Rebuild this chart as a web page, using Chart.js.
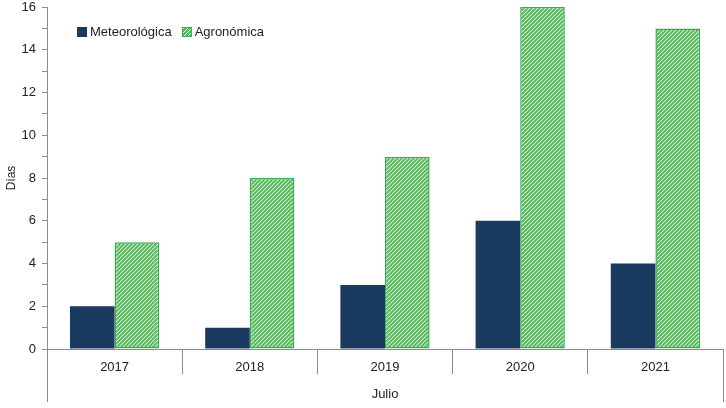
<!DOCTYPE html>
<html lang="es">
<head>
<meta charset="UTF-8">
<title>Días Julio</title>
<script src="https://cdn.jsdelivr.net/npm/chart.js"></script>
<style>
  body { margin: 0; background: #fff; }
  #wrap { position: relative; width: 726px; height: 408px; }
  #legend { position: absolute; left: 77px; top: 24px; font: 13px "Liberation Sans", sans-serif; color: #222; display: flex; align-items: center; }
  #legend span.box { display: inline-block; width: 10px; height: 10px; margin-right: 3px; box-sizing: border-box; }
  #legend span.txt { margin-right: 10px; }
</style>
</head>
<body>
<div id="wrap">
  <canvas id="chart" width="726" height="408"></canvas>
  <div id="legend"></div>
</div>
<script>
const years = ['2017', '2018', '2019', '2020', '2021'];
const meteorologica = [2, 1, 3, 6, 4];
const agronomica = [5, 8, 9, 16, 15];
const groupLabel = 'Julio';

const navy = '#1B3A5F';
const green = '#3DAA58';
const stripe = '#52B957';

// diagonal hatch like the Excel "wide upward diagonal"
function makeHatch() {
  const c = document.createElement('canvas');
  c.width = 4; c.height = 4;
  const g = c.getContext('2d');
  g.fillStyle = '#fff';
  g.fillRect(0, 0, 4, 4);
  g.strokeStyle = stripe;
  g.lineWidth = 2;
  g.beginPath();
  g.moveTo(-1, 5); g.lineTo(5, -1);
  g.moveTo(-1, 1); g.lineTo(1, -1);
  g.moveTo(3, 5); g.lineTo(5, 3);
  g.stroke();
  return g.createPattern(c, 'repeat');
}
const hatch = makeHatch();

// outer lines of the two-level category axis
const outerLines = {
  id: 'outerLines',
  afterDraw(chart) {
    const { ctx, chartArea } = chart;
    ctx.save();
    ctx.strokeStyle = '#8c8c8c';
    ctx.lineWidth = 1;
    [chartArea.left, chartArea.right].forEach(x => {
      ctx.beginPath();
      ctx.moveTo(Math.round(x) + 0.5, chartArea.bottom);
      ctx.lineTo(Math.round(x) + 0.5, 402);
      ctx.stroke();
    });
    ctx.restore();
  }
};

const chart = new Chart(document.getElementById('chart'), {
  type: 'bar',
  data: {
    labels: years,
    datasets: [
      { label: 'Meteorológica', data: meteorologica, backgroundColor: navy, borderWidth: 0 },
      { label: 'Agronómica', data: agronomica, backgroundColor: hatch, borderColor: green, borderWidth: 1.5, borderSkipped: false }
    ]
  },
  options: {
    responsive: false,
    animation: false,
    layout: { padding: { top: 7, right: 3, left: 0, bottom: 0 } },
    datasets: { bar: { categoryPercentage: 0.66, barPercentage: 1 } },
    plugins: { legend: { display: false }, tooltip: { enabled: false } },
    scales: {
      x: {
        grid: { drawOnChartArea: false, drawTicks: true, tickLength: 25, color: '#8c8c8c', offset: true },
        border: { color: '#8c8c8c' },
        ticks: { color: '#222', font: { family: 'Liberation Sans', size: 13 }, padding: -14 },
        title: { display: true, text: groupLabel, color: '#222', font: { family: 'Liberation Sans', size: 13 }, padding: { top: 0, bottom: 6 } },
        afterFit(s) { s.height = 59; }
      },
      y: {
        min: 0, max: 16,
        ticks: {
          stepSize: 1, color: '#222', font: { family: 'Liberation Sans', size: 13 }, padding: 6,
          callback: v => (v % 2 === 0 ? v : '')
        },
        grid: { drawOnChartArea: false, drawTicks: true, tickLength: 5, color: '#8c8c8c' },
        border: { color: '#8c8c8c' },
        title: { display: true, text: 'Días', color: '#222', font: { family: 'Liberation Sans', size: 12 } },
        afterFit(s) { s.width = 47; s.paddingTop = 0; s.paddingBottom = 0; }
      }
    }
  },
  plugins: [outerLines]
});

// legend as html
const legend = document.getElementById('legend');
chart.data.datasets.forEach((ds, i) => {
  const box = document.createElement('span');
  box.className = 'box';
  if (i === 0) box.style.background = navy;
  else {
    box.style.border = '1px solid ' + green;
    box.style.background = 'repeating-linear-gradient(-45deg, ' + stripe + ' 0 1.6px, #fff 1.6px 2.8px)';
  }
  const txt = document.createElement('span');
  txt.className = 'txt';
  txt.textContent = ds.label;
  legend.appendChild(box);
  legend.appendChild(txt);
});
</script>
</body>
</html>
